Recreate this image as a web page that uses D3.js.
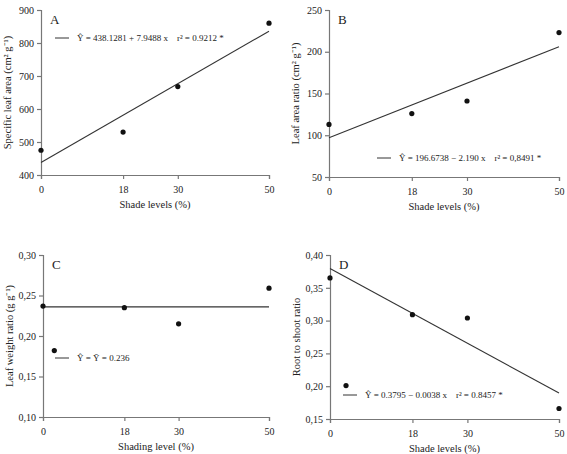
<!DOCTYPE html>
<html><head><meta charset="utf-8">
<script src="https://cdn.jsdelivr.net/npm/d3@7"></script>
<style>body{margin:0;background:#fff}text{font-family:"Liberation Serif","Times New Roman",serif;fill:#222}</style>
</head><body><svg id="c" width="567" height="454"></svg>
<script>
const xTicks=[0,18,30,50];
const aX=[0,18,30,50], aY=[475,530,668,860], aLine=[438.1281,835.6];
const bX=[0,18,30,50], bY=[113,126,141,223], bLine=[97,206];
const cX=[0,18,30,50,2.5], cY=[0.237,0.235,0.215,0.259,0.182], cLine=[0.236,0.236];
const dX=[0,18,30,50,3.5], dY=[0.365,0.309,0.304,0.166,0.201], dLine=[0.3795,0.1895];
const panels=[
 {id:"A",x:aX,y:aY,line:aLine,dom:[400,900],ticks:[400,500,600,700,800,900],fmt:d3.format("d"),
  box:[41,269,10,175],ylab:"Specific leaf area (cm² g⁻¹)",xlab:"Shade levels (%)",
  eq:"Ŷ = 438.1281 + 7.9488 x    r² = 0.9212 *",leg:[55,38]},
 {id:"B",x:bX,y:bY,line:bLine,dom:[50,250],ticks:[50,100,150,200,250],fmt:d3.format("d"),
  box:[329,559,10,177],ylab:"Leaf area ratio (cm² g⁻¹)",xlab:"Shade levels (%)",
  eq:"Ŷ = 196.6738 − 2.190 x    r² = 0,8491 *",leg:[377,158]},
 {id:"C",x:cX,y:cY,line:cLine,dom:[0.10,0.30],ticks:[0.10,0.15,0.20,0.25,0.30],fmt:v=>d3.format(".2f")(v).replace(".",","),
  box:[43,269,255,417],ylab:"Leaf weight ratio (g g⁻¹)",xlab:"Shading level (%)",
  eq:"Ŷ = Ȳ = 0.236",leg:[55,358]},
 {id:"D",x:dX,y:dY,line:dLine,dom:[0.15,0.40],ticks:[0.15,0.20,0.25,0.30,0.35,0.40],fmt:v=>d3.format(".2f")(v).replace(".",","),
  box:[330,559,255,419],ylab:"Root  to shoot ratio",xlab:"Shade levels (%)",
  eq:"Ŷ = 0.3795 − 0.0038 x    r² = 0.8457 *",leg:[343,395]}
];
const svg=d3.select("#c");
panels.forEach(p=>{
 const [x0,x1,y0,y1]=p.box;
 const xs=d3.scaleLinear().domain([0,50]).range([x0,x1]);
 const ys=d3.scaleLinear().domain(p.dom).range([y1,y0]);
 const g=svg.append("g");
 const xa=g.append("g").attr("transform",`translate(0,${y1})`).call(d3.axisBottom(xs).tickValues(xTicks).tickSize(4).tickFormat(d3.format("d")));
 const ya=g.append("g").attr("transform",`translate(${x0},0)`).call(d3.axisLeft(ys).tickValues(p.ticks).tickSize(4).tickFormat(p.fmt));
 [xa,ya].forEach(a=>{a.selectAll("path,line").attr("stroke","#777").attr("stroke-width",1.2);a.selectAll("text").style("font-size","10px").style("font-family",'"Liberation Serif",serif').attr("fill","#222");});
 xa.selectAll("text").attr("dy","1.1em");
 g.append("line").attr("x1",xs(0)).attr("x2",xs(50)).attr("y1",ys(p.line[0])).attr("y2",ys(p.line[1])).attr("stroke","#333").attr("stroke-width",1.1);
 g.selectAll("circle").data(p.x.map((v,i)=>[v,p.y[i]])).join("circle").attr("cx",d=>xs(d[0])).attr("cy",d=>ys(d[1])).attr("r",2.6).attr("fill","#111");
 g.append("text").attr("x",x0+9).attr("y",y0+14).text(p.id).style("font-size","13px");
 g.append("text").attr("x",(x0+x1)/2).attr("y",y1+33).attr("text-anchor","middle").text(p.xlab).style("font-size","10.5px");
 g.append("text").attr("transform",`translate(${x0-30},${(y0+y1)/2}) rotate(-90)`).attr("text-anchor","middle").text(p.ylab).style("font-size","10.5px");
 g.append("line").attr("x1",p.leg[0]).attr("x2",p.leg[0]+14).attr("y1",p.leg[1]).attr("y2",p.leg[1]).attr("stroke","#333");
 g.append("text").attr("x",p.leg[0]+22).attr("y",p.leg[1]+3).text(p.eq).style("font-size","9px").attr("xml:space","preserve").style("white-space","pre");
});
</script></body></html>
